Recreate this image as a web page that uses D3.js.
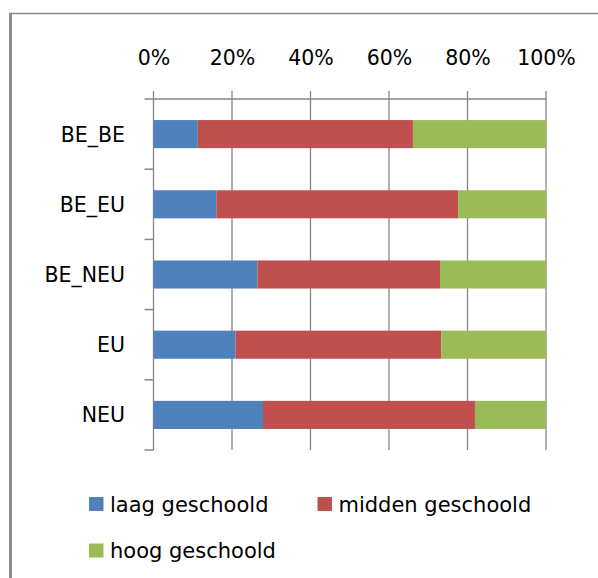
<!DOCTYPE html>
<html>
<head>
<meta charset="utf-8">
<script src="https://cdn.jsdelivr.net/npm/d3@7"></script>
<style>
  html, body { margin: 0; padding: 0; background: #fff; }
  svg { display: block; }
  text { font-family: "DejaVu Sans", sans-serif; fill: #000; }
</style>
</head>
<body>
<svg id="chart" width="598" height="578"></svg>
<script>
const categories = ["BE_BE", "BE_EU", "BE_NEU", "EU", "NEU"];
const seriesNames = ["laag geschoold", "midden geschoold", "hoog geschoold"];
const laag = [11.3, 16.0, 26.5, 20.9, 27.9];
const midden = [54.8, 61.6, 46.5, 52.4, 54.0];
const hoog = [33.9, 22.4, 27.0, 26.7, 18.1];
const tickValues = [0, 20, 40, 60, 80, 100];
const tickLabels = ["0%", "20%", "40%", "60%", "80%", "100%"];
const colors = ["#4F81BD", "#C0504D", "#9BBB59"];

(function () {
const rows = categories.map((c, i) => ({
  cat: c,
  "laag geschoold": laag[i],
  "midden geschoold": midden[i],
  "hoog geschoold": hoog[i]
}));

const svg = d3.select("#chart");
const gridColor = "#868686";

// outer frame (left + top only)
svg.append("line").attr("x1", 10.5).attr("x2", 10.5).attr("y1", 13).attr("y2", 578)
  .attr("stroke", "#8c8c8c").attr("stroke-width", 3);
svg.append("line").attr("x1", 9).attr("x2", 598).attr("y1", 13.5).attr("y2", 13.5)
  .attr("stroke", "#8c8c8c").attr("stroke-width", 1.5);

const x = d3.scaleLinear().domain([0, 100]).range([153.5, 546]);
const y = d3.scaleBand().domain(categories).range([99, 450])
  .paddingInner(0.6).paddingOuter(0.3);

const plotTop = 99, plotBottom = 450;

// vertical gridlines including tick stubs above axis
svg.append("g").selectAll("line").data(tickValues).join("line")
  .attr("x1", d => x(d)).attr("x2", d => x(d))
  .attr("y1", plotTop - 8).attr("y2", plotBottom)
  .attr("stroke", gridColor).attr("stroke-width", 1.3);

// horizontal axis line
svg.append("line").attr("x1", x(0) - 9).attr("x2", x(100))
  .attr("y1", plotTop).attr("y2", plotTop)
  .attr("stroke", gridColor).attr("stroke-width", 1.5);

// category boundary ticks
const step = y.step();
const bounds = d3.range(categories.length + 1).map(i => plotTop + i * step);
svg.append("g").selectAll("line").data(bounds.slice(1)).join("line")
  .attr("x1", x(0) - 9).attr("x2", x(0))
  .attr("y1", d => d).attr("y2", d => d)
  .attr("stroke", gridColor).attr("stroke-width", 1.5);

// x tick labels
const axis = d3.axisTop(x).tickValues(tickValues)
  .tickFormat((d, i) => tickLabels[i]).tickSize(0).tickPadding(34);
const ag = svg.append("g").attr("transform", `translate(0,${plotTop})`).call(axis);
ag.select(".domain").remove();
ag.selectAll("text").attr("font-family", "DejaVu Sans").attr("font-size", 20.5).attr("fill", "#000");

// stacked bars
const stacked = d3.stack().keys(seriesNames)(rows);
svg.append("g").selectAll("g").data(stacked).join("g")
  .attr("fill", (d, i) => colors[i])
  .selectAll("rect").data(d => d).join("rect")
  .attr("x", d => x(d[0]))
  .attr("width", d => x(d[1]) - x(d[0]))
  .attr("y", d => y(d.data.cat))
  .attr("height", y.bandwidth());

// category labels
svg.append("g").selectAll("text").data(categories).join("text")
  .attr("x", 125)
  .attr("y", d => y(d) + y.bandwidth() / 2 + 7.5)
  .attr("text-anchor", "end")
  .attr("font-size", 20.5)
  .text(d => d);

// legend
const legendItems = [
  { name: seriesNames[0], color: colors[0], sx: 89, row: 0 },
  { name: seriesNames[1], color: colors[1], sx: 317.5, row: 0 },
  { name: seriesNames[2], color: colors[2], sx: 89, row: 1 }
];
const lg = svg.append("g");
const rowBase = [511.5, 558];
legendItems.forEach(it => {
  const yb = rowBase[it.row];
  lg.append("rect").attr("x", it.sx).attr("y", yb - 14.5).attr("width", 14.5).attr("height", 14)
    .attr("fill", it.color);
  lg.append("text").attr("x", it.sx + 21).attr("y", yb).attr("font-size", 21).text(it.name);
});
})();
</script>
</body>
</html>
